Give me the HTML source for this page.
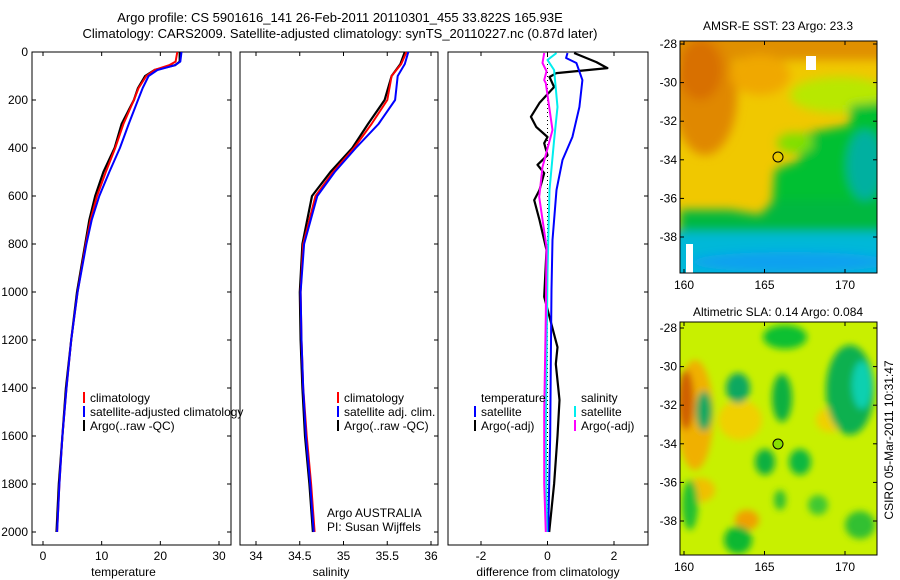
<!DOCTYPE html>
<html><head><meta charset="utf-8">
<style>
html,body{margin:0;padding:0;background:#fff;}
svg{display:block;font-family:"Liberation Sans",sans-serif;}
text{font-size:12px;fill:#000;}
</style></head>
<body>
<svg id="fig" width="900" height="580" viewBox="0 0 900 580" xmlns="http://www.w3.org/2000/svg">
<defs>
<filter id="blur1" x="-50%" y="-50%" width="200%" height="200%"><feGaussianBlur stdDeviation="5"/></filter>
<filter id="blur2" x="-50%" y="-50%" width="200%" height="200%"><feGaussianBlur stdDeviation="3.5"/></filter>
<clipPath id="clipM1"><rect x="680" y="41" width="197" height="232"/></clipPath>
<clipPath id="clipM2"><rect x="680" y="322" width="197" height="233"/></clipPath>
</defs>
<text x="340" y="22" text-anchor="middle" style="font-size:13px">Argo profile: CS 5901616_141 26-Feb-2011 20110301_455 33.822S 165.93E</text>
<text x="340" y="38" text-anchor="middle" style="font-size:13px">Climatology: CARS2009. Satellite-adjusted climatology: synTS_20110227.nc (0.87d later)</text>

<!-- Map 1 -->
<g>
<text x="778" y="30" text-anchor="middle">AMSR-E SST: 23 Argo: 23.3</text>
<g clip-path="url(#clipM1)">
<rect x="680" y="41" width="197" height="232" fill="#f0c800"/>
<g filter="url(#blur1)">
<rect x="670" y="30" width="230" height="30" fill="#e09000"/>
<ellipse cx="705" cy="95" rx="32" ry="60" fill="#e08800"/>
<ellipse cx="700" cy="70" rx="22" ry="30" fill="#d87000"/>
<ellipse cx="760" cy="75" rx="30" ry="20" fill="#f0a800"/>
<ellipse cx="840" cy="95" rx="50" ry="18" fill="#b8e800"/>
<path d="M770 235 L775 170 L800 160 L800 135 L850 125 L850 105 L900 100 L900 240 Z" fill="#00c030"/>
<path d="M680 250 L680 210 L730 210 L760 215 L775 200 L900 200 L900 250 Z" fill="#00b840"/>
<ellipse cx="795" cy="143" rx="18" ry="10" fill="#80e000"/>
<rect x="670" y="232" width="230" height="60" fill="#00b8d8"/>
<ellipse cx="790" cy="262" rx="100" ry="10" fill="#10a0f0"/>
<ellipse cx="865" cy="165" rx="18" ry="35" fill="#00b0a0"/>
</g>
<rect x="686" y="244" width="7" height="29" fill="#fff"/>
<rect x="806" y="56" width="10" height="14" fill="#fff"/>
<circle cx="778" cy="157" r="5" fill="none" stroke="#000" stroke-width="1"/>
</g>
<rect x="680" y="41" width="197" height="232" fill="none" stroke="#000"/>
</g>

<!-- Map 2 -->
<g>
<text x="778" y="316" text-anchor="middle">Altimetric SLA: 0.14 Argo: 0.084</text>
<g clip-path="url(#clipM2)">
<rect x="680" y="322" width="197" height="233" fill="#c8f000"/>
<g filter="url(#blur2)">
<ellipse cx="695" cy="415" rx="18" ry="55" fill="#f0b000"/>
<ellipse cx="686" cy="400" rx="8" ry="30" fill="#d06000"/>
<ellipse cx="700" cy="490" rx="15" ry="12" fill="#f0c000"/>
<ellipse cx="747" cy="520" rx="12" ry="10" fill="#f0a000"/>
<ellipse cx="740" cy="420" rx="22" ry="20" fill="#f0d000"/>
<ellipse cx="830" cy="420" rx="14" ry="12" fill="#f0d000"/>
<ellipse cx="785" cy="337" rx="22" ry="12" fill="#10c030"/>
<ellipse cx="704" cy="411" rx="8" ry="20" fill="#10a860"/>
<ellipse cx="738" cy="388" rx="12" ry="15" fill="#10a860"/>
<ellipse cx="782" cy="398" rx="10" ry="24" fill="#10b040"/>
<ellipse cx="850" cy="390" rx="24" ry="45" fill="#10b050"/>
<ellipse cx="862" cy="385" rx="10" ry="24" fill="#10d0b0"/>
<ellipse cx="765" cy="462" rx="10" ry="13" fill="#10b040"/>
<ellipse cx="800" cy="462" rx="11" ry="13" fill="#10b840"/>
<ellipse cx="738" cy="540" rx="14" ry="14" fill="#10b830"/>
<ellipse cx="690" cy="505" rx="8" ry="25" fill="#20c030"/>
<ellipse cx="860" cy="525" rx="15" ry="14" fill="#30c030"/>
<ellipse cx="818" cy="505" rx="10" ry="10" fill="#40c830"/>
<ellipse cx="780" cy="500" rx="6" ry="10" fill="#30c030"/>
</g>
<circle cx="778" cy="444" r="5" fill="#88e000" stroke="#000" stroke-width="1"/>
</g>
<rect x="680" y="322" width="197" height="233" fill="none" stroke="#000"/>
</g>
<text transform="translate(893,440) rotate(-90)" text-anchor="middle">CSIRO 05-Mar-2011 10:31:47</text>

<g id="plots"></g>
</svg>
<script>
// ---- Data (depth in m) ----
const tDepth = [0, 40, 55, 75, 100, 150, 200, 300, 400, 500, 600, 700, 800, 1000, 1200, 1400, 1600, 1800, 2000];
const tClim  = [22.9, 22.6, 21.5, 19.0, 17.6, 16.3, 15.5, 13.7, 12.3, 10.7, 9.2, 8.1, 7.3, 5.9, 4.8, 4.0, 3.3, 2.8, 2.4];
const tSat   = [23.6, 23.4, 22.5, 19.5, 18.0, 17.0, 16.2, 14.6, 13.1, 11.3, 9.6, 8.3, 7.4, 5.9, 4.8, 4.0, 3.3, 2.8, 2.4];
const tArgo  = [23.3, 23.3, 22.5, 19.0, 17.4, 16.2, 15.5, 13.4, 12.2, 10.3, 8.9, 7.9, 7.2, 5.8, 4.8, 3.9, 3.3, 2.7, 2.3];
const sDepth = [0, 50, 100, 200, 300, 400, 500, 600, 800, 1000, 1200, 1400, 1600, 1800, 2000];
const sClim  = [35.72, 35.66, 35.55, 35.50, 35.32, 35.12, 34.88, 34.68, 34.54, 34.51, 34.52, 34.54, 34.58, 34.63, 34.67];
const sSat   = [35.74, 35.70, 35.62, 35.59, 35.40, 35.14, 34.90, 34.70, 34.55, 34.51, 34.52, 34.54, 34.57, 34.62, 34.66];
const sArgo  = [35.70, 35.65, 35.55, 35.47, 35.28, 35.10, 34.85, 34.64, 34.53, 34.50, 34.51, 34.53, 34.56, 34.61, 34.65];
const dTDepthArgo = [4, 42, 67, 88, 104, 146, 212, 270, 312, 354, 380, 430, 470, 505, 575, 617, 700, 825, 1020, 1230, 1300, 1450, 1600, 1800, 2000];
const dTArgo      = [0.8, 1.47, 1.8, 0.27, 0.06, 0.2, -0.24, -0.5, -0.34, 0, -0.1, 0, -0.3, -0.1, -0.24, -0.4, -0.24, -0.03, -0.1, 0.3, 0.25, 0.36, 0.3, 0.2, 0.05];
const dTDepthSat  = [4, 25, 46, 117, 229, 354, 450, 575, 783, 990, 1300, 1600, 2000];
const dTSat       = [0.6, 0.56, 0.87, 1.05, 0.96, 0.75, 0.45, 0.27, 0.15, 0.12, 0.1, 0.08, 0.02];
const dSDepthSat  = [4, 33, 75, 229, 367, 575, 920, 1300, 1600, 2000];
const dSSat       = [0.27, 0.0, 0.2, 0.3, 0.2, 0.06, 0.0, -0.03, -0.05, -0.02];
const dSDepthArgo = [4, 46, 80, 117, 130, 325, 479, 604, 812, 1100, 1500, 1800, 2000];
const dSArgo      = [-0.1, -0.15, -0.03, -0.1, -0.05, 0.15, -0.15, -0.25, -0.03, -0.05, -0.1, -0.1, -0.05];
const depthTicks = [0, 200, 400, 600, 800, 1000, 1200, 1400, 1600, 1800, 2000];
const tTicks = [0, 10, 20, 30];
const sTicks = [34, 34.5, 35, 35.5, 36];
const dTicks = [-2, 0, 2];

const NS = 'http://www.w3.org/2000/svg';
const root = document.getElementById('plots');
function mk(tag, attrs, parent) {
  const e = document.createElementNS(NS, tag);
  for (const k in attrs) e.setAttribute(k, attrs[k]);
  (parent || root).appendChild(e);
  return e;
}
const yTop = 52, yBot = 545;
function yDepth(d) { return 52 + d * 0.24; }
function lin(d0, d1, p0, p1) { return v => p0 + (v - d0) * (p1 - p0) / (d1 - d0); }

const panels = [
  { name: 'temperature', x0: 32, x1: 231, sx: lin(0, 30, 43, 219), ticks: tTicks, label: 'temperature' },
  { name: 'salinity', x0: 240, x1: 438, sx: lin(34, 36, 256, 431), ticks: sTicks, label: 'salinity' },
  { name: 'difference', x0: 448, x1: 648, sx: lin(-2, 2, 481, 614), ticks: dTicks, label: 'difference from climatology' }
];

function drawLine(g, p, depths, vals, color, w, name) {
  const pts = depths.map((d, i) => p.sx(vals[i]).toFixed(1) + ',' + yDepth(d).toFixed(1)).join(' ');
  const l = mk('polyline', { points: pts, fill: 'none', stroke: color, 'stroke-width': w, 'stroke-linejoin': 'round' }, g);
  
  
}

panels.forEach((p, pi) => {
  const g = mk('g', {});
  
  
  const fr = mk('rect', { x: p.x0, y: yTop, width: p.x1 - p.x0, height: yBot - yTop, fill: 'none', stroke: '#000', 'stroke-width': 1 }, g);
  
  
  p.ticks.forEach(t => {
    const x = p.sx(t);
    mk('line', { x1: x, x2: x, y1: yBot, y2: yBot - 4, stroke: '#000' }, g);
    mk('line', { x1: x, x2: x, y1: yTop, y2: yTop + 4, stroke: '#000' }, g);
    const tx = mk('text', { x: x, y: yBot + 15, 'text-anchor': 'middle' }, g);
    tx.textContent = String(t);
    
    
  });
  depthTicks.forEach(d => {
    const y = yDepth(d);
    mk('line', { x1: p.x1, x2: p.x1 - 4, y1: y, y2: y, stroke: '#000' }, g);
    if (pi === 0) {
      mk('line', { x1: p.x0, x2: p.x0 + 4, y1: y, y2: y, stroke: '#000' }, g);
      const tx = mk('text', { x: p.x0 - 4, y: y + 4, 'text-anchor': 'end' }, g);
      tx.textContent = String(d);
      
      
    }
  });
  const xl = mk('text', { x: (p.x0 + p.x1) / 2 + (pi === 2 ? 0 : -8), y: 576, 'text-anchor': 'middle' }, g);
  xl.textContent = p.label;
  
  
  p.g = g;
});

let P = panels[0];
drawLine(P.g, P, tDepth, tArgo, '#000', 2.2, 'temp-argo-line');
drawLine(P.g, P, tDepth, tClim, '#f00', 2, 'temp-climatology-line');
drawLine(P.g, P, tDepth, tSat, '#00f', 2, 'temp-satellite-line');
P = panels[1];
drawLine(P.g, P, sDepth, sArgo, '#000', 2.2, 'sal-argo-line');
drawLine(P.g, P, sDepth, sClim, '#f00', 2, 'sal-climatology-line');
drawLine(P.g, P, sDepth, sSat, '#00f', 2, 'sal-satellite-line');
P = panels[2];
const zl = mk('line', { x1: P.sx(0), x2: P.sx(0), y1: yDepth(0), y2: yDepth(2000), stroke: '#000', 'stroke-dasharray': '1,3' }, P.g);


drawLine(P.g, P, dTDepthArgo, dTArgo, '#000', 2.2, 'temp-diff-argo-line');
drawLine(P.g, P, dTDepthSat, dTSat, '#00f', 2, 'temp-diff-satellite-line');
drawLine(P.g, P, dSDepthSat, dSSat, '#0ee', 2, 'sal-diff-satellite-line');
drawLine(P.g, P, dSDepthArgo, dSArgo, '#f0f', 2, 'sal-diff-argo-line');

function legend(x, y, items, name) {
  const g = mk('g', {});
  
  
  items.forEach((it, i) => {
    const yy = y + i * 14;
    if (it[1]) mk('rect', { x: x, y: yy - 10, width: 2, height: 11, fill: it[1] }, g);
    const t = mk('text', { x: x + 7, y: yy }, g);
    t.textContent = it[0];
    
    
  });
}
legend(83, 402, [['climatology', '#f00'], ['satellite-adjusted climatology', '#00f'], ['Argo(..raw -QC)', '#000']], 'temperature-legend');
legend(337, 402, [['climatology', '#f00'], ['satellite adj. clim.', '#00f'], ['Argo(..raw -QC)', '#000']], 'salinity-legend');
legend(474, 402, [['temperature', null], ['satellite', '#00f'], ['Argo(-adj)', '#000']], 'temp-diff-legend');
legend(574, 402, [['salinity', null], ['satellite', '#0ee'], ['Argo(-adj)', '#f0f']], 'sal-diff-legend');
const a1 = mk('text', { x: 327, y: 517 }); a1.textContent = 'Argo AUSTRALIA';


const a2 = mk('text', { x: 327, y: 531 }); a2.textContent = 'PI: Susan Wijffels';



const lonTicks = [160, 165, 170];
const latTicks = [-28, -30, -32, -34, -36, -38];
function mapAxes(x0, x1, y0, y1, lat28) {
  const g = mk('g', {});
  
  
  const sx = lin(160, 170, 684, 845);
  const sy = lin(-28, -38, lat28, lat28 + 193);
  lonTicks.forEach(l => {
    const x = sx(l);
    mk('line', { x1: x, x2: x, y1: y1, y2: y1 - 4, stroke: '#000' }, g);
    mk('line', { x1: x, x2: x, y1: y0, y2: y0 + 4, stroke: '#000' }, g);
    const t = mk('text', { x: x, y: y1 + 16, 'text-anchor': 'middle' }, g);
    t.textContent = String(l);
    
    
  });
  latTicks.forEach(l => {
    const y = sy(l);
    mk('line', { x1: x0, x2: x0 + 4, y1: y, y2: y, stroke: '#000' }, g);
    mk('line', { x1: x1, x2: x1 - 4, y1: y, y2: y, stroke: '#000' }, g);
    const t = mk('text', { x: x0 - 3, y: y + 4, 'text-anchor': 'end' }, g);
    t.textContent = String(l);
    
    
  });
}
mapAxes(680, 877, 41, 273, 44);
mapAxes(680, 877, 322, 555, 328);
</script>
</body></html>
